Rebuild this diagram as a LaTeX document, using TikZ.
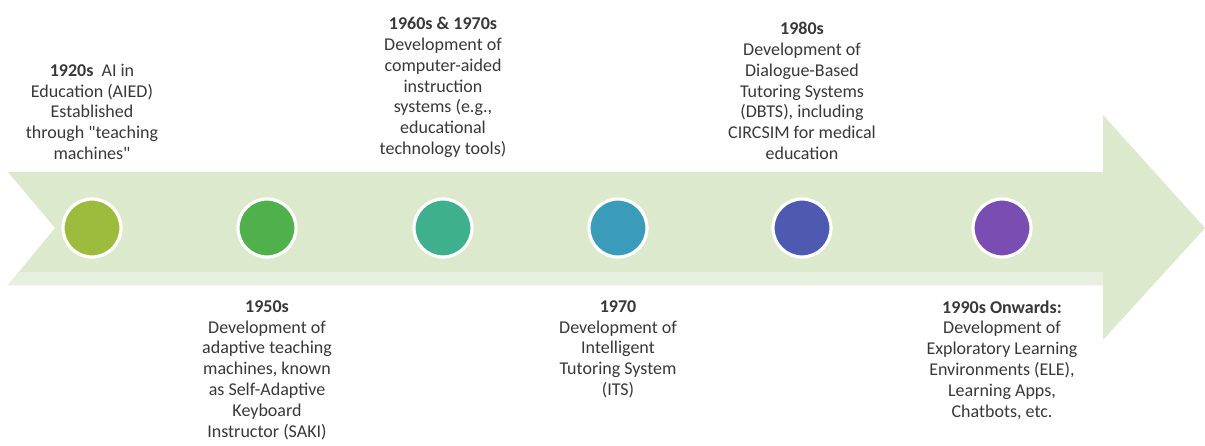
\documentclass[tikz,border=0pt]{standalone}
\usepackage{fontspec}
\setmainfont{Carlito}
\usetikzlibrary{positioning}

\definecolor{arrowgreen}{HTML}{DDE9CD}
\definecolor{striplight}{HTML}{E7F0DE}
\definecolor{textgray}{HTML}{383838}
\definecolor{dotolive}{HTML}{9DBB3C}
\definecolor{dotgreen}{HTML}{50B04C}
\definecolor{dotteal}{HTML}{3FB08E}
\definecolor{dotblue}{HTML}{3A9CBA}
\definecolor{dotindigo}{HTML}{4E5AB2}
\definecolor{dotpurple}{HTML}{7A4DB2}

\begin{document}
\begin{tikzpicture}[x=0.5pt,y=-0.5pt]
\tikzstyle{milestone}=[circle,minimum size=29pt,inner sep=0pt,draw=white,line width=1.6pt]
\tikzstyle{eventtext}=[font=\fontsize{9}{10.4}\selectfont,text=textgray,align=center,inner sep=0pt]
\tikzstyle{toptext}=[eventtext,anchor=south]
\tikzstyle{bottomtext}=[eventtext,anchor=north]

\useasboundingbox (0,0) rectangle (1205,445);

%% ========== TIMELINE ARROW ==========
\fill[arrowgreen] (8,172) -- (1103,172) -- (1103,115) -- (1205,228)
    -- (1103,340) -- (1103,285) -- (8,285) -- (55,228) -- cycle;
% lighter band along the lower edge
\fill[striplight] (20,272) -- (1103,272) -- (1103,285) -- (8,285) -- cycle;

%% ========== MILESTONES ==========
\node[milestone,fill=dotolive]  (dot1920) at (92,228)   {};
\node[milestone,fill=dotgreen]  (dot1950) at (267,228)  {};
\node[milestone,fill=dotteal]   (dot1960) at (443,228)  {};
\node[milestone,fill=dotblue]   (dot1970) at (618,228)  {};
\node[milestone,fill=dotindigo] (dot1980) at (802,228)  {};
\node[milestone,fill=dotpurple] (dot1990) at (1002,228) {};

%% ========== LABELS ABOVE ==========
\node[toptext] (lbl1920) at (92,160) {\textbf{1920s}\ \ AI in\\Education (AIED)\\Established\\through \textquotedbl teaching\\machines\textquotedbl};
\node[toptext] (lbl1960) at (443,158) {\textbf{1960s \& 1970s}\\Development of\\computer-aided\\instruction\\systems (e.g.,\\educational\\technology tools)};
\node[toptext] (lbl1980) at (802,160) {\textbf{1980s}\\Development of\\Dialogue-Based\\Tutoring Systems\\(DBTS), including\\CIRCSIM for medical\\education};

%% ========== LABELS BELOW ==========
\node[bottomtext] (lbl1950) at (267,300) {\textbf{1950s}\\Development of\\adaptive teaching\\machines, known\\as Self-Adaptive\\Keyboard\\Instructor (SAKI)};
\node[bottomtext] (lbl1970) at (618,300) {\textbf{1970}\\Development of\\Intelligent\\Tutoring System\\(ITS)};
\node[bottomtext] (lbl1990) at (1002,300) {\textbf{1990s Onwards:}\\Development of\\Exploratory Learning\\Environments (ELE),\\Learning Apps,\\Chatbots, etc.};

\end{tikzpicture}
\end{document}
